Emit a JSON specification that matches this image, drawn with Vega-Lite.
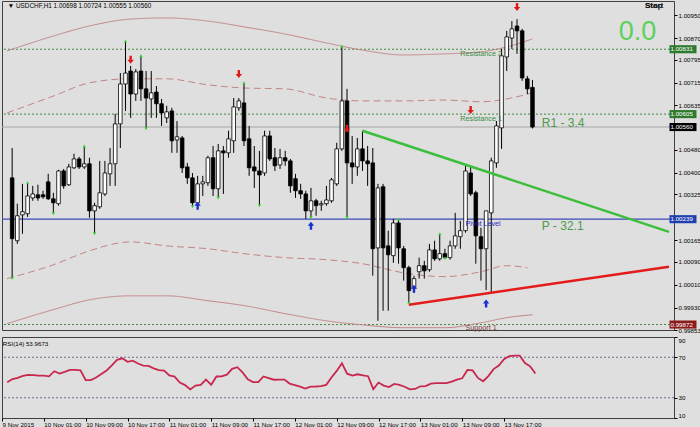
{
  "$schema": "https://vega.github.io/schema/vega-lite/v6.json",
  "background": "#dfdfdf",
  "padding": 0,
  "spacing": 2,
  "config": {
    "font": "Liberation Sans",
    "view": {"stroke": "#404040", "strokeWidth": 1},
    "text": {"font": "Liberation Sans"}
  },
  "datasets": {
    "candles": [
      {"t":"2015-11-09T18:00Z","o":1.00383,"h":1.00487,"l":1.00032,"c":1.00171,"r":45.4},
      {"t":"2015-11-09T19:00Z","o":1.00164,"h":1.00293,"l":1.00153,"c":1.00251,"r":48.5},
      {"t":"2015-11-09T20:00Z","o":1.00254,"h":1.00362,"l":1.00188,"c":1.00265,"r":49.6},
      {"t":"2015-11-09T21:00Z","o":1.00258,"h":1.00366,"l":1.00247,"c":1.00320,"r":51.5},
      {"t":"2015-11-09T22:00Z","o":1.00313,"h":1.00355,"l":1.00303,"c":1.00327,"r":52.6},
      {"t":"2015-11-09T23:00Z","o":1.00324,"h":1.00359,"l":1.00303,"c":1.00313,"r":52.3},
      {"t":"2015-11-10T00:00Z","o":1.00324,"h":1.00338,"l":1.00310,"c":1.00317,"r":51.9},
      {"t":"2015-11-10T01:00Z","o":1.00369,"h":1.00397,"l":1.00306,"c":1.00310,"r":51.9},
      {"t":"2015-11-10T02:00Z","o":1.00310,"h":1.00331,"l":1.00258,"c":1.00296,"r":51.2},
      {"t":"2015-11-10T03:00Z","o":1.00293,"h":1.00411,"l":1.00286,"c":1.00407,"r":56.2},
      {"t":"2015-11-10T04:00Z","o":1.00407,"h":1.00414,"l":1.00345,"c":1.00355,"r":53.8},
      {"t":"2015-11-10T05:00Z","o":1.00359,"h":1.00432,"l":1.00355,"c":1.00421,"r":55.5},
      {"t":"2015-11-10T06:00Z","o":1.00418,"h":1.00467,"l":1.00414,"c":1.00449,"r":57.5},
      {"t":"2015-11-10T07:00Z","o":1.00449,"h":1.00456,"l":1.00414,"c":1.00421,"r":57.5},
      {"t":"2015-11-10T08:00Z","o":1.00421,"h":1.00494,"l":1.00414,"c":1.00432,"r":57.0},
      {"t":"2015-11-10T09:00Z","o":1.00432,"h":1.00453,"l":1.00244,"c":1.00268,"r":47.5},
      {"t":"2015-11-10T10:00Z","o":1.00268,"h":1.00296,"l":1.00188,"c":1.00286,"r":47.4},
      {"t":"2015-11-10T11:00Z","o":1.00282,"h":1.00442,"l":1.00275,"c":1.00331,"r":50.0},
      {"t":"2015-11-10T12:00Z","o":1.00327,"h":1.00442,"l":1.00320,"c":1.00400,"r":53.5},
      {"t":"2015-11-10T13:00Z","o":1.00397,"h":1.00487,"l":1.00355,"c":1.00432,"r":56.9},
      {"t":"2015-11-10T14:00Z","o":1.00432,"h":1.00606,"l":1.00355,"c":1.00571,"r":62.0},
      {"t":"2015-11-10T15:00Z","o":1.00571,"h":1.00748,"l":1.00487,"c":1.00710,"r":67.5},
      {"t":"2015-11-10T16:00Z","o":1.00710,"h":1.00860,"l":1.00616,"c":1.00748,"r":69.0},
      {"t":"2015-11-10T17:00Z","o":1.00755,"h":1.00773,"l":1.00592,"c":1.00675,"r":65.5},
      {"t":"2015-11-10T18:00Z","o":1.00675,"h":1.00762,"l":1.00651,"c":1.00752,"r":66.7},
      {"t":"2015-11-10T19:00Z","o":1.00755,"h":1.00808,"l":1.00651,"c":1.00693,"r":63.8},
      {"t":"2015-11-10T20:00Z","o":1.00693,"h":1.00755,"l":1.00554,"c":1.00661,"r":61.8},
      {"t":"2015-11-10T21:00Z","o":1.00658,"h":1.00755,"l":1.00592,"c":1.00679,"r":61.5},
      {"t":"2015-11-10T22:00Z","o":1.00682,"h":1.00703,"l":1.00592,"c":1.00641,"r":59.0},
      {"t":"2015-11-10T23:00Z","o":1.00641,"h":1.00658,"l":1.00564,"c":1.00609,"r":57.3},
      {"t":"2015-11-11T00:00Z","o":1.00592,"h":1.00634,"l":1.00574,"c":1.00613,"r":56.8},
      {"t":"2015-11-11T01:00Z","o":1.00616,"h":1.00627,"l":1.00470,"c":1.00512,"r":52.0},
      {"t":"2015-11-11T02:00Z","o":1.00515,"h":1.00581,"l":1.00470,"c":1.00526,"r":50.9},
      {"t":"2015-11-11T03:00Z","o":1.00522,"h":1.00529,"l":1.00400,"c":1.00418,"r":45.0},
      {"t":"2015-11-11T04:00Z","o":1.00421,"h":1.00435,"l":1.00362,"c":1.00383,"r":42.5},
      {"t":"2015-11-11T05:00Z","o":1.00383,"h":1.00400,"l":1.00282,"c":1.00296,"r":38.2},
      {"t":"2015-11-11T06:00Z","o":1.00296,"h":1.00390,"l":1.00293,"c":1.00362,"r":42.0},
      {"t":"2015-11-11T07:00Z","o":1.00362,"h":1.00390,"l":1.00320,"c":1.00369,"r":42.8},
      {"t":"2015-11-11T08:00Z","o":1.00366,"h":1.00460,"l":1.00355,"c":1.00453,"r":48.0},
      {"t":"2015-11-11T09:00Z","o":1.00453,"h":1.00494,"l":1.00320,"c":1.00345,"r":42.8},
      {"t":"2015-11-11T10:00Z","o":1.00345,"h":1.00501,"l":1.00313,"c":1.00477,"r":51.0},
      {"t":"2015-11-11T11:00Z","o":1.00477,"h":1.00494,"l":1.00327,"c":1.00470,"r":51.2},
      {"t":"2015-11-11T12:00Z","o":1.00470,"h":1.00547,"l":1.00453,"c":1.00519,"r":52.8},
      {"t":"2015-11-11T13:00Z","o":1.00512,"h":1.00661,"l":1.00470,"c":1.00630,"r":58.5},
      {"t":"2015-11-11T14:00Z","o":1.00627,"h":1.00661,"l":1.00616,"c":1.00651,"r":60.2},
      {"t":"2015-11-11T15:00Z","o":1.00644,"h":1.00714,"l":1.00494,"c":1.00512,"r":55.0},
      {"t":"2015-11-11T16:00Z","o":1.00519,"h":1.00564,"l":1.00390,"c":1.00418,"r":48.2},
      {"t":"2015-11-11T17:00Z","o":1.00421,"h":1.00494,"l":1.00348,"c":1.00407,"r":45.4},
      {"t":"2015-11-11T18:00Z","o":1.00407,"h":1.00477,"l":1.00286,"c":1.00393,"r":45.4},
      {"t":"2015-11-11T19:00Z","o":1.00400,"h":1.00547,"l":1.00390,"c":1.00529,"r":51.0},
      {"t":"2015-11-11T20:00Z","o":1.00529,"h":1.00547,"l":1.00442,"c":1.00449,"r":49.4},
      {"t":"2015-11-11T21:00Z","o":1.00453,"h":1.00487,"l":1.00407,"c":1.00425,"r":47.8},
      {"t":"2015-11-11T22:00Z","o":1.00428,"h":1.00484,"l":1.00414,"c":1.00453,"r":48.0},
      {"t":"2015-11-11T23:00Z","o":1.00453,"h":1.00477,"l":1.00425,"c":1.00442,"r":48.0},
      {"t":"2015-11-12T00:00Z","o":1.00442,"h":1.00449,"l":1.00331,"c":1.00355,"r":44.0},
      {"t":"2015-11-12T01:00Z","o":1.00380,"h":1.00397,"l":1.00313,"c":1.00338,"r":42.5},
      {"t":"2015-11-12T02:00Z","o":1.00338,"h":1.00362,"l":1.00310,"c":1.00327,"r":41.0},
      {"t":"2015-11-12T03:00Z","o":1.00327,"h":1.00338,"l":1.00240,"c":1.00268,"r":39.0},
      {"t":"2015-11-12T04:00Z","o":1.00268,"h":1.00348,"l":1.00244,"c":1.00303,"r":41.0},
      {"t":"2015-11-12T05:00Z","o":1.00303,"h":1.00310,"l":1.00251,"c":1.00286,"r":41.1},
      {"t":"2015-11-12T06:00Z","o":1.00289,"h":1.00303,"l":1.00268,"c":1.00293,"r":41.5},
      {"t":"2015-11-12T07:00Z","o":1.00293,"h":1.00355,"l":1.00286,"c":1.00306,"r":42.7},
      {"t":"2015-11-12T08:00Z","o":1.00303,"h":1.00383,"l":1.00296,"c":1.00376,"r":50.0},
      {"t":"2015-11-12T09:00Z","o":1.00362,"h":1.00505,"l":1.00355,"c":1.00484,"r":56.5},
      {"t":"2015-11-12T10:00Z","o":1.00484,"h":1.00842,"l":1.00477,"c":1.00651,"r":64.0},
      {"t":"2015-11-12T11:00Z","o":1.00651,"h":1.00693,"l":1.00244,"c":1.00435,"r":53.8},
      {"t":"2015-11-12T12:00Z","o":1.00435,"h":1.00529,"l":1.00362,"c":1.00421,"r":51.9},
      {"t":"2015-11-12T13:00Z","o":1.00421,"h":1.00522,"l":1.00390,"c":1.00484,"r":53.2},
      {"t":"2015-11-12T14:00Z","o":1.00484,"h":1.00547,"l":1.00407,"c":1.00442,"r":52.2},
      {"t":"2015-11-12T15:00Z","o":1.00442,"h":1.00494,"l":1.00355,"c":1.00432,"r":51.3},
      {"t":"2015-11-12T16:00Z","o":1.00435,"h":1.00487,"l":1.00042,"c":1.00136,"r":38.5},
      {"t":"2015-11-12T17:00Z","o":1.00139,"h":1.00362,"l":0.99885,"c":1.00348,"r":45.0},
      {"t":"2015-11-12T18:00Z","o":1.00352,"h":1.00362,"l":0.99920,"c":1.00139,"r":42.0},
      {"t":"2015-11-12T19:00Z","o":1.00146,"h":1.00199,"l":0.99920,"c":1.00115,"r":40.5},
      {"t":"2015-11-12T20:00Z","o":1.00112,"h":1.00240,"l":1.00087,"c":1.00226,"r":43.7},
      {"t":"2015-11-12T21:00Z","o":1.00226,"h":1.00240,"l":1.00084,"c":1.00139,"r":42.8},
      {"t":"2015-11-12T22:00Z","o":1.00136,"h":1.00146,"l":1.00025,"c":1.00070,"r":40.9},
      {"t":"2015-11-12T23:00Z","o":1.00070,"h":1.00077,"l":0.99945,"c":0.99990,"r":38.3},
      {"t":"2015-11-13T00:00Z","o":1.00000,"h":1.00042,"l":0.99983,"c":1.00032,"r":38.7},
      {"t":"2015-11-13T01:00Z","o":1.00056,"h":1.00105,"l":1.00032,"c":1.00077,"r":41.3},
      {"t":"2015-11-13T02:00Z","o":1.00077,"h":1.00094,"l":1.00032,"c":1.00059,"r":41.5},
      {"t":"2015-11-13T03:00Z","o":1.00063,"h":1.00153,"l":1.00056,"c":1.00132,"r":44.0},
      {"t":"2015-11-13T04:00Z","o":1.00132,"h":1.00164,"l":1.00094,"c":1.00101,"r":44.4},
      {"t":"2015-11-13T05:00Z","o":1.00101,"h":1.00188,"l":1.00094,"c":1.00119,"r":44.4},
      {"t":"2015-11-13T06:00Z","o":1.00119,"h":1.00136,"l":1.00101,"c":1.00105,"r":44.4},
      {"t":"2015-11-13T07:00Z","o":1.00105,"h":1.00164,"l":1.00098,"c":1.00146,"r":45.9},
      {"t":"2015-11-13T08:00Z","o":1.00146,"h":1.00261,"l":1.00136,"c":1.00181,"r":47.8},
      {"t":"2015-11-13T09:00Z","o":1.00178,"h":1.00233,"l":1.00136,"c":1.00199,"r":49.2},
      {"t":"2015-11-13T10:00Z","o":1.00199,"h":1.00425,"l":1.00192,"c":1.00407,"r":57.5},
      {"t":"2015-11-13T11:00Z","o":1.00400,"h":1.00421,"l":1.00320,"c":1.00327,"r":57.0},
      {"t":"2015-11-13T12:00Z","o":1.00331,"h":1.00338,"l":1.00084,"c":1.00181,"r":49.6},
      {"t":"2015-11-13T13:00Z","o":1.00178,"h":1.00209,"l":1.00025,"c":1.00136,"r":46.3},
      {"t":"2015-11-13T14:00Z","o":1.00136,"h":1.00268,"l":0.99992,"c":1.00268,"r":51.4},
      {"t":"2015-11-13T15:00Z","o":1.00261,"h":1.00453,"l":0.99983,"c":1.00442,"r":58.3},
      {"t":"2015-11-13T16:00Z","o":1.00435,"h":1.00581,"l":1.00418,"c":1.00564,"r":61.8},
      {"t":"2015-11-13T17:00Z","o":1.00557,"h":1.00832,"l":1.00484,"c":1.00808,"r":68.0},
      {"t":"2015-11-13T18:00Z","o":1.00804,"h":1.00895,"l":1.00755,"c":1.00874,"r":71.2},
      {"t":"2015-11-13T19:00Z","o":1.00870,"h":1.00929,"l":1.00832,"c":1.00902,"r":71.6},
      {"t":"2015-11-13T20:00Z","o":1.00912,"h":1.00936,"l":1.00815,"c":1.00895,"r":71.6},
      {"t":"2015-11-13T21:00Z","o":1.00895,"h":1.00902,"l":1.00721,"c":1.00731,"r":64.3},
      {"t":"2015-11-13T22:00Z","o":1.00728,"h":1.00738,"l":1.00675,"c":1.00693,"r":61.0},
      {"t":"2015-11-13T23:00Z","o":1.00698,"h":1.00724,"l":1.00555,"c":1.00560,"r":53.97}
    ],
    "bands": [
      {"b":"us","t":"2015-11-09T17:00Z","p":1.00825},{"b":"us","t":"2015-11-10T02:00Z","p":1.00877},{"b":"us","t":"2015-11-10T09:00Z","p":1.00912},{"b":"us","t":"2015-11-10T17:00Z","p":1.00936},{"b":"us","t":"2015-11-11T00:00Z","p":1.00940},{"b":"us","t":"2015-11-11T08:00Z","p":1.00929},{"b":"us","t":"2015-11-11T15:00Z","p":1.00909},{"b":"us","t":"2015-11-11T23:00Z","p":1.00884},{"b":"us","t":"2015-11-12T07:00Z","p":1.00853},{"b":"us","t":"2015-11-12T14:00Z","p":1.00828},{"b":"us","t":"2015-11-12T22:00Z","p":1.00811},{"b":"us","t":"2015-11-13T06:00Z","p":1.00815},{"b":"us","t":"2015-11-13T13:00Z","p":1.00822},{"b":"us","t":"2015-11-13T18:00Z","p":1.00839},{"b":"us","t":"2015-11-13T23:00Z","p":1.00867},
      {"b":"ud","t":"2015-11-09T17:00Z","p":1.00609},{"b":"ud","t":"2015-11-10T02:00Z","p":1.00668},{"b":"ud","t":"2015-11-10T09:00Z","p":1.00714},{"b":"ud","t":"2015-11-10T17:00Z","p":1.00728},{"b":"ud","t":"2015-11-11T00:00Z","p":1.00728},{"b":"ud","t":"2015-11-11T08:00Z","p":1.00707},{"b":"ud","t":"2015-11-11T15:00Z","p":1.00696},{"b":"ud","t":"2015-11-11T23:00Z","p":1.00693},{"b":"ud","t":"2015-11-12T07:00Z","p":1.00661},{"b":"ud","t":"2015-11-12T14:00Z","p":1.00651},{"b":"ud","t":"2015-11-12T22:00Z","p":1.00651},{"b":"ud","t":"2015-11-13T06:00Z","p":1.00654},{"b":"ud","t":"2015-11-13T13:00Z","p":1.00648},{"b":"ud","t":"2015-11-13T18:00Z","p":1.00658},{"b":"ud","t":"2015-11-13T23:00Z","p":1.00679},
      {"b":"ld","t":"2015-11-09T17:00Z","p":1.00032},{"b":"ld","t":"2015-11-10T02:00Z","p":1.00080},{"b":"ld","t":"2015-11-10T09:00Z","p":1.00129},{"b":"ld","t":"2015-11-10T17:00Z","p":1.00160},{"b":"ld","t":"2015-11-11T00:00Z","p":1.00146},{"b":"ld","t":"2015-11-11T08:00Z","p":1.00136},{"b":"ld","t":"2015-11-11T15:00Z","p":1.00119},{"b":"ld","t":"2015-11-11T23:00Z","p":1.00105},{"b":"ld","t":"2015-11-12T07:00Z","p":1.00098},{"b":"ld","t":"2015-11-12T14:00Z","p":1.00084},{"b":"ld","t":"2015-11-12T22:00Z","p":1.00052},{"b":"ld","t":"2015-11-13T06:00Z","p":1.00039},{"b":"ld","t":"2015-11-13T13:00Z","p":1.00056},{"b":"ld","t":"2015-11-13T18:00Z","p":1.00077},{"b":"ld","t":"2015-11-13T22:00Z","p":1.00070},
      {"b":"ls","t":"2015-11-09T17:00Z","p":0.99875},{"b":"ls","t":"2015-11-10T02:00Z","p":0.99924},{"b":"ls","t":"2015-11-10T09:00Z","p":0.99958},{"b":"ls","t":"2015-11-10T17:00Z","p":0.99972},{"b":"ls","t":"2015-11-11T00:00Z","p":0.99972},{"b":"ls","t":"2015-11-11T08:00Z","p":0.99955},{"b":"ls","t":"2015-11-11T15:00Z","p":0.99938},{"b":"ls","t":"2015-11-11T23:00Z","p":0.99910},{"b":"ls","t":"2015-11-12T07:00Z","p":0.99885},{"b":"ls","t":"2015-11-12T14:00Z","p":0.99871},{"b":"ls","t":"2015-11-12T22:00Z","p":0.99861},{"b":"ls","t":"2015-11-13T06:00Z","p":0.99861},{"b":"ls","t":"2015-11-13T13:00Z","p":0.99878},{"b":"ls","t":"2015-11-13T18:00Z","p":0.99896},{"b":"ls","t":"2015-11-13T23:00Z","p":0.99906}
    ],
    "levels": [
      {"k":"res","p":1.00831},{"k":"res","p":1.00605},{"k":"res","p":0.99872},
      {"k":"bid","p":1.0056},{"k":"piv","p":1.00239}
    ],
    "trend": [
      {"g":"green","t":"2015-11-12T14:00Z","p":1.00547},{"g":"green","t":"2015-11-15T01:30Z","p":1.00195},
      {"g":"red","t":"2015-11-12T23:00Z","p":0.99941},{"g":"red","t":"2015-11-15T01:30Z","p":1.00073}
    ],
    "fractals": [
      {"t":"2015-11-09T18:00Z","p":1.00032,"d":"dn"},{"t":"2015-11-09T21:00Z","p":1.00366,"d":"up"},
      {"t":"2015-11-10T02:00Z","p":1.00258,"d":"dn"},{"t":"2015-11-10T08:00Z","p":1.00494,"d":"up"},
      {"t":"2015-11-10T10:00Z","p":1.00188,"d":"dn"},{"t":"2015-11-10T16:00Z","p":1.00860,"d":"up"},
      {"t":"2015-11-10T19:00Z","p":1.00808,"d":"up"},{"t":"2015-11-10T20:00Z","p":1.00554,"d":"dn"},
      {"t":"2015-11-11T05:00Z","p":1.00282,"d":"dn"},{"t":"2015-11-11T10:00Z","p":1.00313,"d":"dn"},
      {"t":"2015-11-11T15:00Z","p":1.00714,"d":"up"},{"t":"2015-11-11T18:00Z","p":1.00286,"d":"dn"},
      {"t":"2015-11-12T04:00Z","p":1.00244,"d":"dn"},{"t":"2015-11-12T10:00Z","p":1.00842,"d":"up"},
      {"t":"2015-11-12T11:00Z","p":1.00244,"d":"dn"},{"t":"2015-11-12T21:00Z","p":1.00240,"d":"up"},
      {"t":"2015-11-12T23:00Z","p":0.99945,"d":"dn"},{"t":"2015-11-13T05:00Z","p":1.00188,"d":"up"},
      {"t":"2015-11-13T06:00Z","p":1.00101,"d":"dn"}
    ],
    "signals": [
      {"t":"2015-11-10T17:00Z","p":1.00794,"d":"dn"},{"t":"2015-11-11T14:00Z","p":1.00745,"d":"dn"},
      {"t":"2015-11-13T20:00Z","p":1.00978,"d":"dn"},{"t":"2015-11-12T11:00Z","p":1.00554,"d":"dn"},
      {"t":"2015-11-13T11:00Z","p":1.00619,"d":"dn"},
      {"t":"2015-11-11T06:00Z","p":1.00286,"d":"up"},{"t":"2015-11-12T04:00Z","p":1.00216,"d":"up"},
      {"t":"2015-11-13T00:00Z","p":0.99997,"d":"up"},{"t":"2015-11-13T14:00Z","p":0.99945,"d":"up"}
    ],
    "notes": [
      {"k":"title","t":"2015-11-09T17:10Z","p":1.00982,"s":"▼ USDCHF,H1  1.00698 1.00724 1.00555 1.00560"},
      {"k":"corner","t":"2015-11-14T20:50Z","p":1.00982,"s":"Start"},
      {"k":"corner","t":"2015-11-14T20:50Z","p":1.00982,"s":"Stop"},
      {"k":"big","t":"2015-11-14T19:24Z","p":1.00891,"s":"0.0"},
      {"k":"ind","t":"2015-11-14T00:48Z","p":1.00574,"s":"R1 - 3.4"},
      {"k":"ind","t":"2015-11-14T00:48Z","p":1.00215,"s":"P - 32.1"},
      {"k":"res","t":"2015-11-13T09:00Z","p":1.00815,"s":"Resistance 2"},
      {"k":"res","t":"2015-11-13T09:00Z","p":1.00588,"s":"Resistance 1"},
      {"k":"piv","t":"2015-11-13T10:00Z","p":1.00223,"s":"Pivot Level"},
      {"k":"sup","t":"2015-11-13T10:00Z","p":0.99861,"s":"Support 1"}
    ],
    "boxes": [
      {"k":"g","t":"2015-11-15T01:30Z","p":1.00831,"s":"1.00831"},
      {"k":"g","t":"2015-11-15T01:30Z","p":1.00605,"s":"1.00605"},
      {"k":"bid","t":"2015-11-15T01:30Z","p":1.0056,"s":"1.00560"},
      {"k":"piv","t":"2015-11-15T01:30Z","p":1.00239,"s":"1.00239"},
      {"k":"sup","t":"2015-11-15T01:30Z","p":0.99872,"s":"0.99872"}
    ],
    "rsilev": [{"v":30},{"v":70}],
    "rsinote": [{"t":"2015-11-09T17:10Z","v":83,"s":"RSI(14) 53.9673"}]
  },
  "vconcat": [
    {
      "width": 672,
      "height": 329,
      "resolve": {"axis": {"y": "independent", "x": "independent"}},
      "layer": [
        {
          "data": {"name": "levels"},
          "transform": [{"filter": "datum.k == 'res'"}],
          "mark": {"type": "rule", "color": "#3d8b3d", "strokeDash": [2, 2], "strokeWidth": 1},
          "encoding": {
            "y": {
              "field": "p", "type": "quantitative",
              "scale": {"domain": [0.99853, 1.00999], "nice": false, "zero": false},
              "axis": {
                "orient": "right", "title": null, "grid": false, "domain": false,
                "values": [1.0095, 1.0087, 1.00795, 1.00715, 1.00635, 1.0048, 1.004, 1.00325, 1.00165, 1.0009, 1.0001, 0.9993, 0.99853],
                "format": ".5f", "labelFontSize": 6.2, "labelColor": "#000000", "labelFont": "Liberation Sans",
                "tickSize": 3, "tickColor": "#000000", "labelPadding": 1, "labelOverlap": false, "labelFlush": false
              }
            }
          }
        },
        {
          "data": {"name": "levels"},
          "transform": [{"filter": "datum.k == 'bid'"}],
          "mark": {"type": "rule", "color": "#a6a6a6", "strokeWidth": 1},
          "encoding": {"y": {"field": "p", "type": "quantitative", "axis": null}}
        },
        {
          "data": {"name": "levels"},
          "transform": [{"filter": "datum.k == 'piv'"}],
          "mark": {"type": "rule", "color": "#3b4bb8", "strokeWidth": 1.3},
          "encoding": {"y": {"field": "p", "type": "quantitative", "axis": null}}
        },
        {
          "encoding": {
            "x": {
              "field": "t", "type": "temporal", "axis": null,
              "scale": {"type": "utc", "domain": [
                {"year": 2015, "month": 11, "date": 9, "hours": 17, "utc": true},
                {"year": 2015, "month": 11, "date": 15, "hours": 1, "minutes": 30, "utc": true}
              ]}
            }
          },
          "layer": [
            {
              "data": {"name": "bands"},
              "mark": {"type": "line", "interpolate": "monotone", "color": "#c48484", "strokeWidth": 1},
              "encoding": {
                "y": {"field": "p", "type": "quantitative", "axis": null},
                "detail": {"field": "b"},
                "strokeDash": {"field": "b", "legend": null, "scale": {"domain": ["us", "ud", "ld", "ls"], "range": [[1, 0], [7, 4], [7, 4], [1, 0]]}}
              }
            },
            {
              "data": {"name": "candles"},
              "mark": {"type": "rule", "color": "#000000", "strokeWidth": 1},
              "encoding": {
                "y": {"field": "l", "type": "quantitative", "axis": null},
                "y2": {"field": "h"}
              }
            },
            {
              "data": {"name": "candles"},
              "mark": {"type": "bar", "width": 3.6, "stroke": "#000000", "strokeWidth": 0.8},
              "encoding": {
                "y": {"field": "o", "type": "quantitative", "axis": null},
                "y2": {"field": "c"},
                "fill": {"condition": {"test": "datum.c >= datum.o", "value": "#ffffff"}, "value": "#000000"}
              }
            },
            {
              "data": {"name": "trend"},
              "mark": {"type": "line", "strokeWidth": 2.5},
              "encoding": {
                "y": {"field": "p", "type": "quantitative", "axis": null},
                "detail": {"field": "g"},
                "stroke": {"field": "g", "legend": null, "scale": {"domain": ["green", "red"], "range": ["#3cbf3c", "#e31b1b"]}}
              }
            },
            {
              "data": {"name": "fractals"},
              "transform": [{"filter": "datum.d == 'up'"}],
              "mark": {"type": "point", "shape": "triangle-up", "filled": true, "size": 12, "color": "#3ad43a", "opacity": 1},
              "encoding": {"y": {"field": "p", "type": "quantitative", "axis": null}}
            },
            {
              "data": {"name": "fractals"},
              "transform": [{"filter": "datum.d == 'dn'"}],
              "mark": {"type": "point", "shape": "triangle-down", "filled": true, "size": 12, "color": "#3ad43a", "opacity": 1},
              "encoding": {"y": {"field": "p", "type": "quantitative", "axis": null}}
            },
            {
              "data": {"name": "signals"},
              "transform": [{"filter": "datum.d == 'dn'"}],
              "mark": {"type": "point", "shape": "M-0.3,-1L0.3,-1L0.3,0L0.8,0L0,1L-0.8,0L-0.3,0Z", "filled": true, "size": 64, "color": "#e01818", "opacity": 1},
              "encoding": {"y": {"field": "p", "type": "quantitative", "axis": null}}
            },
            {
              "data": {"name": "signals"},
              "transform": [{"filter": "datum.d == 'up'"}],
              "mark": {"type": "point", "shape": "M-0.3,1L0.3,1L0.3,0L0.8,0L0,-1L-0.8,0L-0.3,0Z", "filled": true, "size": 64, "color": "#1a2fd0", "opacity": 1},
              "encoding": {"y": {"field": "p", "type": "quantitative", "axis": null}}
            },
            {
              "data": {"name": "notes"},
              "transform": [{"filter": "datum.k == 'title'"}],
              "mark": {"type": "text", "align": "left", "baseline": "middle", "fontSize": 6.4, "color": "#000000"},
              "encoding": {"y": {"field": "p", "type": "quantitative", "axis": null}, "text": {"field": "s"}}
            },
            {
              "data": {"name": "notes"},
              "transform": [{"filter": "datum.k == 'corner'"}],
              "mark": {"type": "text", "align": "left", "baseline": "middle", "fontSize": 8, "fontWeight": "bold", "color": "#1a1a1a"},
              "encoding": {"y": {"field": "p", "type": "quantitative", "axis": null}, "text": {"field": "s"}}
            },
            {
              "data": {"name": "notes"},
              "transform": [{"filter": "datum.k == 'big'"}],
              "mark": {"type": "text", "align": "center", "baseline": "middle", "fontSize": 27, "color": "#5ad25a"},
              "encoding": {"y": {"field": "p", "type": "quantitative", "axis": null}, "text": {"field": "s"}}
            },
            {
              "data": {"name": "notes"},
              "transform": [{"filter": "datum.k == 'ind'"}],
              "mark": {"type": "text", "align": "left", "baseline": "middle", "fontSize": 12, "color": "#4e9a4e"},
              "encoding": {"y": {"field": "p", "type": "quantitative", "axis": null}, "text": {"field": "s"}}
            },
            {
              "data": {"name": "notes"},
              "transform": [{"filter": "datum.k == 'res' || datum.k == 'piv' || datum.k == 'sup'"}],
              "mark": {"type": "text", "align": "left", "baseline": "middle", "fontSize": 7.2},
              "encoding": {
                "y": {"field": "p", "type": "quantitative", "axis": null},
                "text": {"field": "s"},
                "color": {"field": "k", "legend": null, "scale": {"domain": ["res", "piv", "sup"], "range": ["#3d8c3d", "#2c2cc0", "#7a3a3a"]}}
              }
            },
            {
              "data": {"name": "boxes"},
              "mark": {"type": "point", "shape": "M-1,-0.3L1,-0.3L1,0.3L-1,0.3Z", "size": 729, "filled": true, "opacity": 1, "xOffset": 14, "strokeWidth": 0},
              "encoding": {
                "y": {"field": "p", "type": "quantitative", "axis": null},
                "fill": {"field": "k", "legend": null, "scale": {"domain": ["g", "bid", "piv", "sup"], "range": ["#2e7a2e", "#000000", "#1f3fb0", "#8b1a1a"]}}
              }
            },
            {
              "data": {"name": "boxes"},
              "mark": {"type": "text", "align": "left", "baseline": "middle", "dx": 1.5, "fontSize": 6.2, "color": "#ffffff"},
              "encoding": {
                "y": {"field": "p", "type": "quantitative", "axis": null},
                "text": {"field": "s"}
              }
            }
          ]
        }
      ]
    },
    {
      "width": 672,
      "height": 81,
      "resolve": {"axis": {"y": "independent", "x": "independent"}},
      "layer": [
        {
          "data": {"name": "rsilev"},
          "mark": {"type": "rule", "color": "#6e6e90", "strokeDash": [2, 2], "strokeWidth": 1},
          "encoding": {
            "y": {
              "field": "v", "type": "quantitative",
              "scale": {"domain": [10, 90], "nice": false, "zero": false},
              "axis": {
                "orient": "right", "title": null, "grid": false, "domain": false,
                "values": [10, 30, 70, 90], "labelFontSize": 6.2, "labelColor": "#000000",
                "tickSize": 3, "tickColor": "#000000", "labelPadding": 1, "labelFlush": true
              }
            }
          }
        },
        {
          "data": {"name": "candles"},
          "mark": {"type": "line", "color": "#c8284e", "strokeWidth": 1.8},
          "encoding": {
            "y": {"field": "r", "type": "quantitative", "axis": null},
            "x": {
              "field": "t", "type": "temporal",
              "scale": {"type": "utc", "domain": [
                {"year": 2015, "month": 11, "date": 9, "hours": 17, "utc": true},
                {"year": 2015, "month": 11, "date": 15, "hours": 1, "minutes": 30, "utc": true}
              ]},
              "axis": {
                "title": null, "grid": false, "domain": false,
                "values": [
                  {"year": 2015, "month": 11, "date": 9, "hours": 17, "utc": true},
                  {"year": 2015, "month": 11, "date": 10, "hours": 1, "utc": true},
                  {"year": 2015, "month": 11, "date": 10, "hours": 9, "utc": true},
                  {"year": 2015, "month": 11, "date": 10, "hours": 17, "utc": true},
                  {"year": 2015, "month": 11, "date": 11, "hours": 1, "utc": true},
                  {"year": 2015, "month": 11, "date": 11, "hours": 9, "utc": true},
                  {"year": 2015, "month": 11, "date": 11, "hours": 17, "utc": true},
                  {"year": 2015, "month": 11, "date": 12, "hours": 1, "utc": true},
                  {"year": 2015, "month": 11, "date": 12, "hours": 9, "utc": true},
                  {"year": 2015, "month": 11, "date": 12, "hours": 17, "utc": true},
                  {"year": 2015, "month": 11, "date": 13, "hours": 1, "utc": true},
                  {"year": 2015, "month": 11, "date": 13, "hours": 9, "utc": true},
                  {"year": 2015, "month": 11, "date": 13, "hours": 17, "utc": true}
                ],
                "labelExpr": "utcFormat(datum.value, '%d%H') == '0917' ? '9 Nov 2015' : utcFormat(datum.value, '%-d %b %H:%M')",
                "labelAlign": "left", "labelFontSize": 6.2, "labelColor": "#000000", "labelFlush": false,
                "labelOverlap": false, "tickSize": 3, "tickColor": "#000000", "labelPadding": 0
              }
            }
          }
        },
        {
          "data": {"name": "rsinote"},
          "mark": {"type": "text", "align": "left", "baseline": "middle", "fontSize": 6.2, "color": "#000000"},
          "encoding": {
            "x": {"field": "t", "type": "temporal", "axis": null},
            "y": {"field": "v", "type": "quantitative", "axis": null},
            "text": {"field": "s"}
          }
        }
      ]
    }
  ]
}
